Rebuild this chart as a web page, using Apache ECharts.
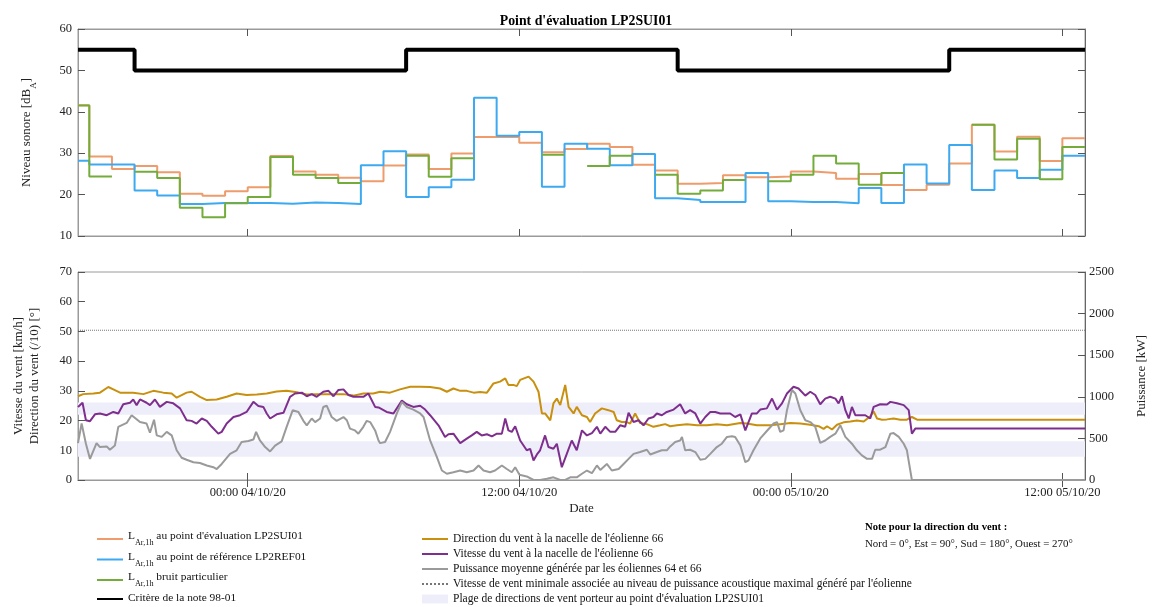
<!DOCTYPE html>
<html><head><meta charset="utf-8">
<script src="https://cdn.jsdelivr.net/npm/echarts@6/dist/echarts.min.js"></script>
<style>html,body{margin:0;padding:0;background:#fff;}#c{width:1156px;height:607px;}</style>
</head><body><div id="c"></div>
<script>
// Time is expressed in hours since 03/10/20 00:00
const FONT = '"Liberation Serif", "DejaVu Serif", serif';
const tickHours = [24, 36, 48, 60];
const tickLabels = ['00:00 04/10/20', '12:00 04/10/20', '00:00 05/10/20', '12:00 05/10/20'];

// hourly interval bounds: 16:30 03/10, then every full hour until 13:00 05/10
const hourBounds = [16.5].concat(Array.from({length: 45}, (_, i) => 17 + i));

// LAr,1h values (dBA), one per interval
const lEval = [41.6,29.2,26.2,26.9,25.4,20.2,19.7,20.8,21.8,29.3,25.6,24.8,24.1,23.2,27.0,29.7,26.2,29.9,33.9,34.0,32.5,30.2,31.0,32.3,31.5,27.2,25.8,22.6,22.8,24.7,24.2,24.4,25.6,25.2,23.8,25.0,22.3,21.1,22.4,27.5,36.9,30.4,34.0,28.1,33.6];
const lRef = [28.2,27.3,27.3,21.0,19.8,17.7,18.0,18.0,18.0,17.8,18.1,18.0,17.7,27.1,30.5,19.4,21.8,23.6,43.4,34.2,35.1,21.9,32.3,31.1,27.1,29.8,19.1,18.7,18.2,18.2,25.2,18.4,18.2,18.2,17.9,21.6,18.0,27.3,22.7,32.0,21.1,25.8,24.0,26.0,29.4];
const lPart = [41.5,24.4,null,25.5,24.0,16.8,14.5,17.9,19.4,29.1,24.8,24.0,22.8,null,null,29.4,24.3,28.8,null,null,null,29.6,null,26.9,29.4,null,24.8,20.2,21.0,23.5,null,23.2,24.8,29.4,27.5,22.4,25.2,null,null,null,36.9,28.5,33.5,23.7,31.5];

// Criterion of note 98-01
const critBounds = [16.5, 19, 31, 43, 55, 61];
const critValues = [55, 50, 55, 50, 55];

// Wind direction (/10, degrees)
const dirT = [16.50,16.73,17.18,17.47,17.84,18.06,18.36,18.94,19.39,19.83,20.27,20.64,20.86,21.30,21.52,21.89,22.19,22.63,23.07,23.51,23.95,24.40,24.84,25.28,25.72,26.17,26.61,27.05,27.64,28.23,28.67,29.11,29.55,
  29.85,30.29,30.73,31.18,31.62,32.06,32.50,32.80,33.09,33.39,33.68,33.98,34.27,34.57,34.86,35.15,35.38,35.52,35.74,35.89,36.04,36.41,36.63,36.85,37.00,37.14,37.37,37.51,37.66,37.81,38.03,38.18,38.40,38.54,38.77,38.99,39.13,39.35,39.65,39.94,40.17,40.31,40.53,40.75,40.90,41.12,41.34,41.64,41.93,42.23,42.45,42.67,42.97,43.41,43.85,44.29,44.73,45.18,45.77,46.06,46.50,
  47.09,47.53,47.98,48.42,48.86,49.23,49.45,49.60,49.82,50.04,50.33,50.63,50.92,51.22,51.51,51.66,51.81,52.03,52.25,52.54,52.84,53.13,53.35,53.58,61.0];
const dirV = [28.2,28.9,29.1,29.4,31.3,30.5,29.4,29.4,28.9,30.0,29.4,29.1,27.7,29.4,29.7,28.0,26.9,27.1,28.0,29.1,28.6,28.8,29.1,29.8,30.0,29.5,28.8,28.9,28.9,28.9,28.4,29.1,29.1,
  29.7,29.4,30.5,31.4,31.4,31.3,30.8,29.7,30.8,30.0,30.0,29.4,29.6,29.4,32.5,33.1,34.2,32.0,32.0,31.6,33.7,34.8,33.1,29.7,22.4,22.4,20.1,25.8,27.4,25.2,32.0,24.6,22.4,24.6,21.8,21.2,19.5,22.4,24.1,23.5,22.9,20.1,19.5,19.5,19.0,22.4,19.2,18.8,17.9,18.4,18.8,18.1,18.4,18.8,18.4,18.4,18.8,18.4,19.2,19.0,18.4,
  18.4,18.8,19.2,19.0,18.6,18.1,17.2,18.1,17.0,18.6,19.4,19.7,20.0,19.7,21.4,23.1,20.7,20.3,20.4,20.7,20.3,20.3,21.2,20.3,20.3];

// Wind speed (km/h)
const spdT = [16.50,16.70,16.85,17.03,17.25,17.47,17.77,18.06,18.28,18.50,18.80,18.94,19.09,19.24,19.53,19.68,19.90,20.12,20.42,20.71,21.01,21.30,21.52,21.74,21.97,22.19,22.41,22.70,22.85,23.07,23.37,23.66,23.95,24.25,24.47,24.69,24.84,24.99,25.28,25.58,25.87,26.09,26.39,26.61,26.83,27.05,27.34,27.57,27.79,28.01,28.23,28.45,28.67,28.89,29.11,29.33,29.63,29.78,
  29.85,30.14,30.44,30.81,31.03,31.32,31.62,31.84,32.06,32.43,32.72,32.87,33.09,33.39,33.68,33.90,34.12,34.34,34.57,34.79,35.01,35.23,35.38,35.52,35.67,35.82,36.04,36.33,36.48,36.63,36.78,36.92,37.14,37.29,37.51,37.66,37.88,38.10,38.32,38.54,38.77,38.99,39.21,39.43,39.58,39.80,40.02,40.24,40.46,40.68,40.83,41.05,41.27,41.49,41.71,41.93,42.08,42.30,42.52,42.82,43.11,43.33,43.55,43.78,44.00,44.22,44.44,44.66,44.88,45.10,45.32,45.54,45.77,45.99,46.28,46.50,
  46.65,46.94,47.17,47.39,47.61,47.83,48.12,48.34,48.64,48.86,49.08,49.30,49.52,49.74,49.97,50.11,50.26,50.41,50.56,50.70,50.85,51.07,51.29,51.51,51.66,51.95,52.25,52.40,52.69,52.99,53.21,53.35,53.50,61.0];
const spdV = [24.6,26.0,20.1,19.8,22.1,22.4,21.8,22.9,22.4,25.5,26.0,27.1,25.2,27.1,26.0,25.2,27.1,24.6,26.3,25.8,24.1,20.1,19.9,19.0,20.7,19.9,17.9,15.6,16.2,19.0,21.2,21.8,22.9,26.3,24.9,24.6,22.4,20.7,22.1,22.6,28.0,29.1,29.4,28.2,28.9,28.0,29.7,30.0,28.2,30.3,30.5,28.6,28.0,28.0,28.0,29.1,24.6,24.4,
  24.6,22.9,22.4,26.7,25.5,24.6,25.0,23.7,21.8,18.4,14.5,15.4,15.6,12.4,13.9,15.0,16.2,15.0,15.4,14.7,15.6,15.6,20.7,16.7,16.2,18.1,13.3,10.0,10.5,6.6,8.6,10.0,15.0,11.1,10.5,12.2,4.3,8.8,13.3,10.0,16.7,15.0,15.8,17.9,15.6,17.9,16.2,16.2,18.4,17.9,22.6,19.5,20.1,18.4,20.7,21.2,22.4,21.8,22.9,23.7,25.5,22.4,23.5,22.4,19.0,21.2,22.9,22.9,22.4,22.4,22.4,21.2,22.1,16.7,22.4,22.4,
  23.7,24.1,27.4,23.7,25.8,29.1,31.4,30.8,28.4,29.7,28.6,25.5,27.4,28.0,27.4,25.8,28.2,23.5,20.7,24.6,21.8,21.8,21.8,20.7,24.6,25.5,25.4,26.3,25.8,25.2,23.5,15.6,17.3,17.3];

// Mean power of turbines 64 and 66 (kW)
const powT = [16.50,16.66,16.85,17.03,17.32,17.47,17.77,17.91,18.13,18.28,18.65,18.87,19.24,19.53,19.68,19.86,19.98,20.20,20.42,20.64,20.86,21.08,21.30,21.60,21.89,22.19,22.48,22.63,22.85,23.22,23.51,23.73,24.03,24.25,24.37,24.54,24.77,24.99,25.21,25.50,25.72,25.99,26.24,26.46,26.61,26.83,26.98,27.20,27.34,27.49,27.71,27.93,28.23,28.38,28.52,28.74,28.89,29.11,29.26,29.41,29.63,29.78,
  29.85,30.07,30.29,30.59,30.81,31.03,31.32,31.62,31.77,32.06,32.36,32.58,32.80,33.09,33.39,33.68,33.98,34.20,34.42,34.71,34.93,35.23,35.45,35.67,35.82,36.01,36.33,36.63,36.92,37.22,37.51,37.81,38.03,38.25,38.54,38.77,38.99,39.21,39.43,39.58,39.87,40.09,40.39,40.61,40.83,41.05,41.34,41.64,41.79,42.08,42.30,42.52,42.67,42.89,43.11,43.19,43.33,43.55,43.78,44.00,44.22,44.44,44.73,44.95,45.18,45.40,45.54,45.77,45.99,46.13,46.35,
  46.65,46.94,47.24,47.39,47.53,47.68,47.83,48.05,48.20,48.42,48.64,48.86,49.08,49.30,49.52,49.74,49.97,50.19,50.41,50.70,50.92,51.14,51.37,51.59,51.73,51.95,52.18,52.40,52.54,52.77,52.99,53.13,53.35,61.0];
const powV = [443,679,436,254,443,396,404,364,414,639,686,779,696,679,568,725,536,518,579,536,357,268,243,214,204,175,154,132,193,314,357,457,468,486,579,475,396,343,414,464,639,839,818,711,657,739,696,739,878,893,757,711,757,718,618,596,557,639,711,696,596,475,
  443,457,579,800,939,878,846,800,757,475,275,114,75,93,114,93,114,175,114,93,114,175,132,93,154,64,43,0,0,14,32,0,0,32,32,75,114,82,175,121,193,114,132,193,254,314,336,364,307,336,357,357,404,457,475,518,357,364,336,243,254,314,396,436,518,525,518,414,214,236,357,
  500,589,679,696,579,596,839,1082,1039,839,718,696,639,446,475,518,557,657,518,436,357,296,254,254,364,364,396,557,564,518,436,357,0,0];

// Minimum wind speed associated with maximal acoustic power (km/h)
const minWindSpeed = 50.4;
// Carrier wind direction ranges (/10 degrees)
const dirBands = [[7.8, 13.0], [22.0, 26.1]];

const N = {
  eval: "LAr,1h au point d'évaluation LP2SUI01",
  ref: "LAr,1h au point de référence LP2REF01",
  part: "LAr,1h bruit particulier",
  crit: "Critère de la note 98-01",
  dir: "Direction du vent à la nacelle de l'éolienne 66",
  spd: "Vitesse du vent à la nacelle de l'éolienne 66",
  pow: "Puissance moyenne générée par les éoliennes 64 et 66",
  min: "Vitesse de vent minimale associée au niveau de puissance acoustique maximal généré par l'éolienne",
  band: "Plage de directions de vent porteur au point d'évaluation LP2SUI01"
};

function stepData(bounds, vals) {
  const out = [];
  vals.forEach((v, i) => {
    if (v == null) { out.push([bounds[i], null]); }
    else { out.push([bounds[i], v]); out.push([bounds[i + 1], v]); }
  });
  return out;
}
const zip = (t, v) => t.map((x, i) => [x, v[i]]);

const C = { eval: '#EE9C6C', ref: '#3DA9F0', part: '#74AC3C', crit: '#000000', dir: '#C8900E', spd: '#7E2F8E', pow: '#9A9A9A', min: '#777777', band: '#EEEEFA' };
const txt = '#222';
const axisGray = '#9a9a9a';
const tickGray = '#555';

const xCommon = (grid, pos, labels) => ({
  type: 'value', gridIndex: grid, position: pos, min: 16.5, max: 61,
  splitLine: { show: false },
  axisLine: { show: true, lineStyle: { color: axisGray } },
  axisTick: { show: true, inside: true, length: 7, customValues: tickHours, lineStyle: { color: tickGray } },
  axisLabel: labels ? { show: true, customValues: tickHours, margin: 6, fontFamily: FONT, fontSize: 12.5, color: txt,
    formatter: v => tickLabels[tickHours.indexOf(v)] || '' } : { show: false }
});

const option = {
  animation: false,
  backgroundColor: '#fff',
  title: { text: "Point d'évaluation LP2SUI01", left: 581, top: 9, textAlign: 'center',
    textStyle: { fontFamily: FONT, fontSize: 13.8, fontWeight: 'bold', color: '#000' } },
  grid: [
    { left: 78, top: 29, width: 1007, height: 207, show: true, borderColor: axisGray, borderWidth: 1 },
    { left: 78, top: 272, width: 1007, height: 208, show: true, borderColor: axisGray, borderWidth: 1 }
  ],
  xAxis: [
    xCommon(0, 'bottom', false),
    xCommon(0, 'top', false),
    Object.assign(xCommon(1, 'bottom', true), { name: 'Date', nameLocation: 'middle', nameGap: 22,
      nameTextStyle: { fontFamily: FONT, fontSize: 13, color: txt } }),
    xCommon(1, 'top', false)
  ],
  yAxis: [
    { type: 'value', gridIndex: 0, position: 'left', min: 10, max: 60, interval: 10,
      splitLine: { show: false },
      axisLine: { show: true, lineStyle: { color: axisGray } },
      axisTick: { show: true, inside: true, length: 7, lineStyle: { color: tickGray } },
      axisLabel: { margin: 6, fontFamily: FONT, fontSize: 12.5, color: txt },
      name: '{n|Niveau sonore [dB}{a|A}{n|]}{h|\u200b}', nameLocation: 'middle', nameGap: 40, nameRotate: 90,
      nameTextStyle: { fontFamily: FONT, color: txt, rich: {
        n: { fontFamily: FONT, fontSize: 13, color: txt, lineHeight: 14, verticalAlign: 'top' },
        a: { fontFamily: FONT, fontSize: 9, color: txt, lineHeight: 9, verticalAlign: 'bottom' },
        h: { fontSize: 1, lineHeight: 18 } } } },
    { type: 'value', gridIndex: 0, position: 'right', min: 10, max: 60, interval: 10,
      splitLine: { show: false },
      axisLine: { show: true, lineStyle: { color: '#666' } },
      axisTick: { show: true, inside: true, length: 7, lineStyle: { color: tickGray } },
      axisLabel: { show: false } },
    { type: 'value', gridIndex: 1, position: 'left', min: 0, max: 70, interval: 10,
      splitLine: { show: false },
      axisLine: { show: true, lineStyle: { color: axisGray } },
      axisTick: { show: true, inside: true, length: 7, lineStyle: { color: tickGray } },
      axisLabel: { margin: 6, fontFamily: FONT, fontSize: 12.5, color: txt },
      name: 'Vitesse du vent [km/h]\nDirection du vent (/10) [°]', nameLocation: 'middle', nameGap: 35, nameRotate: 90,
      nameTextStyle: { fontFamily: FONT, fontSize: 13, color: txt, lineHeight: 16 } },
    { type: 'value', gridIndex: 1, position: 'right', min: 0, max: 2500, interval: 500,
      splitLine: { show: false },
      axisLine: { show: true, lineStyle: { color: '#666' } },
      axisTick: { show: true, inside: true, length: 7, lineStyle: { color: tickGray } },
      axisLabel: { margin: 4, fontFamily: FONT, fontSize: 12.5, color: txt, formatter: v => String(v) },
      name: 'Puissance [kW]', nameLocation: 'middle', nameGap: 50, nameRotate: 90,
      nameTextStyle: { fontFamily: FONT, fontSize: 13, color: txt } }
  ],
  legend: [
    { data: [N.eval, N.ref, N.part, N.crit], orient: 'vertical', left: 96, top: 531, height: 100, padding: 0,
      itemWidth: 26, itemHeight: 10, itemGap: 4.5, selectedMode: false, itemStyle: { opacity: 0 },
      textStyle: { fontFamily: FONT, fontSize: 11.4, color: '#111', rich: {
        m: { fontFamily: FONT, fontSize: 11.4, color: '#111', lineHeight: 13, verticalAlign: 'top' },
        s: { fontFamily: FONT, fontSize: 8.2, color: '#111', lineHeight: 9, verticalAlign: 'bottom' },
        h: { fontSize: 1, lineHeight: 16 } } },
      formatter: name => name.startsWith('LAr,1h')
        ? '{m|L}{s|Ar,1h}{m|' + name.slice(6) + '}{h|\u200b}'
        : '{m|' + name + '}' },
    { data: [N.dir, N.spd, N.pow, N.min, { name: N.band, icon: 'rect', itemStyle: { opacity: 1, color: C.band } }],
      orient: 'vertical', left: 421, top: 532, height: 100, padding: 0,
      itemWidth: 26, itemHeight: 9, itemGap: 1, selectedMode: false, itemStyle: { opacity: 0 },
      textStyle: { fontFamily: FONT, fontSize: 11.5, color: '#111', lineHeight: 14 } }
  ],
  graphic: [
    { type: 'text', left: 865, top: 522, style: { text: 'Note pour la direction du vent :', font: 'bold 10.6px "Liberation Serif"', fill: '#000' } },
    { type: 'text', left: 865, top: 539, style: { text: 'Nord = 0°, Est = 90°, Sud = 180°, Ouest = 270°', font: '10.9px "Liberation Serif"', fill: '#111' } }
  ],
  series: [
    { name: N.eval, type: 'line', xAxisIndex: 0, yAxisIndex: 0, data: stepData(hourBounds, lEval), symbol: 'none', color: C.eval, lineStyle: { width: 2, color: C.eval } },
    { name: N.ref, type: 'line', xAxisIndex: 0, yAxisIndex: 0, data: stepData(hourBounds, lRef), symbol: 'none', color: C.ref, lineStyle: { width: 2, color: C.ref } },
    { name: N.part, type: 'line', xAxisIndex: 0, yAxisIndex: 0, data: stepData(hourBounds, lPart), symbol: 'none', color: C.part, lineStyle: { width: 2, color: C.part } },
    { name: N.crit, type: 'line', xAxisIndex: 0, yAxisIndex: 0, data: stepData(critBounds, critValues), symbol: 'none', color: C.crit, lineStyle: { width: 4, color: C.crit } },
    { name: N.band, type: 'line', xAxisIndex: 2, yAxisIndex: 2, data: [], symbol: 'none', color: C.band, itemStyle: { color: C.band }, lineStyle: { width: 0 },
      markArea: { silent: true, itemStyle: { color: C.band }, data: dirBands.map(b => [{ yAxis: b[0] }, { yAxis: b[1] }]) } },
    { name: N.dir, type: 'line', xAxisIndex: 2, yAxisIndex: 2, data: zip(dirT, dirV), symbol: 'none', color: C.dir, lineStyle: { width: 2, color: C.dir } },
    { name: N.spd, type: 'line', xAxisIndex: 2, yAxisIndex: 2, data: zip(spdT, spdV), symbol: 'none', color: C.spd, lineStyle: { width: 2, color: C.spd } },
    { name: N.pow, type: 'line', xAxisIndex: 2, yAxisIndex: 3, data: zip(powT, powV), symbol: 'none', color: C.pow, lineStyle: { width: 2, color: C.pow } },
    { name: N.min, type: 'line', xAxisIndex: 2, yAxisIndex: 2, data: [[16.5, minWindSpeed], [61, minWindSpeed]], symbol: 'none', color: C.min, lineStyle: { width: 1, type: 'dotted', color: C.min } }
  ]
};

const chart = echarts.init(document.getElementById('c'), null, { renderer: 'canvas' });
chart.setOption(option);
</script></body></html>
